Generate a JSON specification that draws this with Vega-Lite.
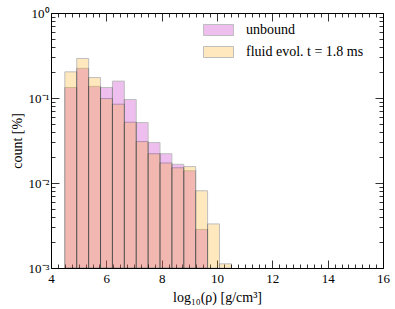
{
  "$schema": "https://vega.github.io/schema/vega-lite/v6.json",
  "width": 332,
  "height": 255,
  "autosize": "none",
  "padding": {"left": 51, "top": 13, "right": 12, "bottom": 41},
  "background": "white",
  "config": {
    "view": {"stroke": "black", "strokeWidth": 1},
    "font": "Liberation Serif",
    "axis": {
      "domain": false,
      "grid": false,
      "tickColor": "black",
      "tickWidth": 0.8,
      "labelColor": "black",
      "labelFont": "Liberation Serif",
      "labelFontSize": 13,
      "titleFont": "Liberation Serif",
      "titleFontSize": 14,
      "titleFontWeight": "normal",
      "titleColor": "black"
    }
  },
  "data": {
    "values": [
      {"series": "unbound", "lo": 4.5, "hi": 4.93, "count": 0.133},
      {"series": "unbound", "lo": 4.93, "hi": 5.36, "count": 0.223},
      {"series": "unbound", "lo": 5.36, "hi": 5.79, "count": 0.137},
      {"series": "unbound", "lo": 5.79, "hi": 6.22, "count": 0.133},
      {"series": "unbound", "lo": 6.22, "hi": 6.65, "count": 0.158},
      {"series": "unbound", "lo": 6.65, "hi": 7.08, "count": 0.096},
      {"series": "unbound", "lo": 7.08, "hi": 7.51, "count": 0.0514},
      {"series": "unbound", "lo": 7.51, "hi": 7.94, "count": 0.0299},
      {"series": "unbound", "lo": 7.94, "hi": 8.37, "count": 0.0221},
      {"series": "unbound", "lo": 8.37, "hi": 8.8, "count": 0.0166},
      {"series": "unbound", "lo": 8.8, "hi": 9.23, "count": 0.0139},
      {"series": "unbound", "lo": 9.23, "hi": 9.66, "count": 0.00284},
      {"series": "fluid evol. t = 1.8 ms", "lo": 4.5, "hi": 4.93, "count": 0.203},
      {"series": "fluid evol. t = 1.8 ms", "lo": 4.93, "hi": 5.36, "count": 0.292},
      {"series": "fluid evol. t = 1.8 ms", "lo": 5.36, "hi": 5.79, "count": 0.174},
      {"series": "fluid evol. t = 1.8 ms", "lo": 5.79, "hi": 6.22, "count": 0.0986},
      {"series": "fluid evol. t = 1.8 ms", "lo": 6.22, "hi": 6.65, "count": 0.0845},
      {"series": "fluid evol. t = 1.8 ms", "lo": 6.65, "hi": 7.08, "count": 0.0519},
      {"series": "fluid evol. t = 1.8 ms", "lo": 7.08, "hi": 7.51, "count": 0.0307},
      {"series": "fluid evol. t = 1.8 ms", "lo": 7.51, "hi": 7.94, "count": 0.0221},
      {"series": "fluid evol. t = 1.8 ms", "lo": 7.94, "hi": 8.37, "count": 0.0172},
      {"series": "fluid evol. t = 1.8 ms", "lo": 8.37, "hi": 8.8, "count": 0.0151},
      {"series": "fluid evol. t = 1.8 ms", "lo": 8.8, "hi": 9.23, "count": 0.0156},
      {"series": "fluid evol. t = 1.8 ms", "lo": 9.23, "hi": 9.66, "count": 0.0081},
      {"series": "fluid evol. t = 1.8 ms", "lo": 9.66, "hi": 10.09, "count": 0.0033},
      {"series": "fluid evol. t = 1.8 ms", "lo": 10.09, "hi": 10.52, "count": 0.00112}
    ]
  },
  "resolve": {"axis": {"x": "independent", "y": "independent"}},
  "layer": [
    {
      "transform": [{"filter": "datum.series == 'unbound'"}],
      "mark": {"type": "bar", "opacity": 0.25, "stroke": "black", "strokeWidth": 1},
      "encoding": {
        "x": {
          "field": "lo", "type": "quantitative",
          "scale": {"domain": [4, 16], "nice": false, "zero": false},
          "axis": {
            "orient": "bottom",
            "title": "log₁₀(ρ) [g/cm³]",
            "values": [4,4.25,4.5,4.75,5,5.25,5.5,5.75,6,6.25,6.5,6.75,7,7.25,7.5,7.75,8,8.25,8.5,8.75,9,9.25,9.5,9.75,10,10.25,10.5,10.75,11,11.25,11.5,11.75,12,12.25,12.5,12.75,13,13.25,13.5,13.75,14,14.25,14.5,14.75,15,15.25,15.5,15.75,16],
            "labelExpr": "datum.value % 2 == 0 ? datum.value : ''",
            "tickSize": {"condition": {"test": "datum.value % 2 == 0", "value": -8}, "value": -4},
            "labelPadding": 12,
            "labelFlush": false,
            "labelOverlap": false,
            "titlePadding": 1
          }
        },
        "x2": {"field": "hi"},
        "y": {
          "field": "count", "type": "quantitative",
          "scale": {"type": "log", "domain": [0.001, 1], "nice": false},
          "axis": {
            "orient": "left",
            "title": "count [%]",
            "values": [0.001,0.002,0.003,0.004,0.005,0.006,0.007,0.008,0.009,0.01,0.02,0.03,0.04,0.05,0.06,0.07,0.08,0.09,0.1,0.2,0.3,0.4,0.5,0.6,0.7,0.8,0.9,1],
            "labelExpr": "datum.value == 1 ? '10⁰' : datum.value == 0.1 ? '10⁻¹' : datum.value == 0.01 ? '10⁻²' : datum.value == 0.001 ? '10⁻³' : ''",
            "tickSize": {"condition": {"test": "datum.value == 1 || datum.value == 0.1 || datum.value == 0.01 || datum.value == 0.001", "value": -8}, "value": -4},
            "labelPadding": 10,
            "labelFlush": false,
            "labelOverlap": false,
            "titlePadding": 4
          }
        },
        "y2": {"datum": 0.001},
        "color": {
          "field": "series", "type": "nominal",
          "scale": {"domain": ["unbound", "fluid evol. t = 1.8 ms"], "range": ["#bf00bf", "#ffa500"]},
          "legend": {
            "orient": "none",
            "legendX": 152,
            "legendY": 6,
            "title": null,
            "symbolType": "M-1,-0.367H1V0.367H-1Z",
            "symbolSize": 900,
            "symbolOpacity": 0.25,
            "symbolStrokeColor": "black",
            "symbolStrokeWidth": 1,
            "labelFont": "Liberation Serif",
            "labelFontSize": 14,
            "labelColor": "black",
            "labelOffset": 12,
            "clipHeight": 22,
            "rowPadding": 0
          }
        }
      }
    },
    {
      "transform": [{"filter": "datum.series != 'unbound'"}],
      "mark": {"type": "bar", "opacity": 0.25, "stroke": "black", "strokeWidth": 1},
      "encoding": {
        "x": {
          "field": "lo", "type": "quantitative",
          "scale": {"domain": [4, 16], "nice": false, "zero": false},
          "axis": {
            "orient": "top",
            "title": null,
            "labels": false,
            "values": [4,4.25,4.5,4.75,5,5.25,5.5,5.75,6,6.25,6.5,6.75,7,7.25,7.5,7.75,8,8.25,8.5,8.75,9,9.25,9.5,9.75,10,10.25,10.5,10.75,11,11.25,11.5,11.75,12,12.25,12.5,12.75,13,13.25,13.5,13.75,14,14.25,14.5,14.75,15,15.25,15.5,15.75,16],
            "tickSize": {"condition": {"test": "datum.value % 2 == 0", "value": -8}, "value": -4}
          }
        },
        "x2": {"field": "hi"},
        "y": {
          "field": "count", "type": "quantitative",
          "scale": {"type": "log", "domain": [0.001, 1], "nice": false},
          "axis": {
            "orient": "right",
            "title": null,
            "labels": false,
            "values": [0.001,0.002,0.003,0.004,0.005,0.006,0.007,0.008,0.009,0.01,0.02,0.03,0.04,0.05,0.06,0.07,0.08,0.09,0.1,0.2,0.3,0.4,0.5,0.6,0.7,0.8,0.9,1],
            "tickSize": {"condition": {"test": "datum.value == 1 || datum.value == 0.1 || datum.value == 0.01 || datum.value == 0.001", "value": -8}, "value": -4}
          }
        },
        "y2": {"datum": 0.001},
        "color": {"field": "series", "type": "nominal"}
      }
    }
  ]
}
